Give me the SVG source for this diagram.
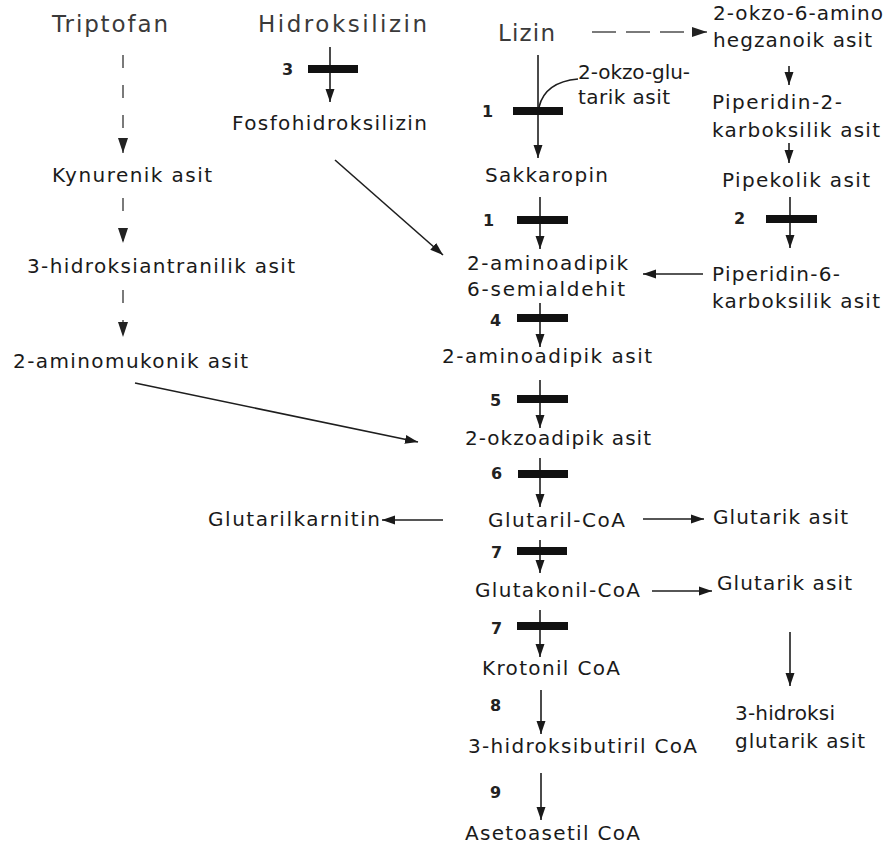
<svg xmlns="http://www.w3.org/2000/svg" width="887" height="847" viewBox="0 0 887 847">
<defs>
<marker id="ah" markerUnits="userSpaceOnUse" markerWidth="14" markerHeight="10" refX="13" refY="5" orient="auto">
<path d="M0,0.5 L13,5 L0,9.5 z" fill="#1a1a1a"/>
</marker>
<marker id="ahd" markerUnits="userSpaceOnUse" markerWidth="16" markerHeight="10" refX="15" refY="5" orient="auto">
<path d="M0,0 L15,5 L0,10 z" fill="#222"/>
</marker>
<style>
text{font-family:"DejaVu Sans","Liberation Sans",sans-serif;fill:#1a1a1a}
.t{font-size:20px}
.h{font-size:23px;fill:#3a3a3a}
.n{font-size:16px;font-weight:bold;fill:#222}
.c line,.c path{stroke:#1e1e1e;stroke-width:1.6;fill:none}
.c .d{stroke:#7a7a7a;stroke-width:2;stroke-dasharray:13,17}
.c .dh{stroke:#7a7a7a;stroke-width:2;stroke-dasharray:24,10}
.bar{fill:#111}
</style>
</defs>
<rect width="887" height="847" fill="#fff"/>

<g id="connectors" class="c">
<line class="d" x1="123" y1="55" x2="123" y2="153" marker-end="url(#ahd)"/>
<line class="d" x1="123" y1="198" x2="123" y2="243" marker-end="url(#ahd)"/>
<line class="d" x1="123" y1="290" x2="123" y2="337" marker-end="url(#ahd)"/>
<line class="dh" x1="592" y1="32" x2="707" y2="32" marker-end="url(#ahd)"/>
<line x1="330" y1="47" x2="330" y2="102" marker-end="url(#ah)"/>
<line x1="538" y1="55" x2="538" y2="158" marker-end="url(#ah)"/>
<path d="M578,79 Q545,82 539,107"/>
<line x1="540" y1="197" x2="540" y2="249" marker-end="url(#ah)"/>
<line x1="540" y1="303" x2="540" y2="347" marker-end="url(#ah)"/>
<line x1="540" y1="380" x2="540" y2="428" marker-end="url(#ah)"/>
<line x1="540" y1="458" x2="540" y2="507" marker-end="url(#ah)"/>
<line x1="540" y1="540" x2="540" y2="573" marker-end="url(#ah)"/>
<line x1="540" y1="610" x2="540" y2="657" marker-end="url(#ah)"/>
<line x1="541" y1="690" x2="541" y2="734" marker-end="url(#ah)"/>
<line x1="541" y1="773" x2="541" y2="820" marker-end="url(#ah)"/>
<line x1="789" y1="66" x2="789" y2="85" marker-end="url(#ah)"/>
<line x1="789" y1="143" x2="789" y2="163" marker-end="url(#ah)"/>
<line x1="790" y1="197" x2="790" y2="248" marker-end="url(#ah)"/>
<line x1="703" y1="274" x2="643" y2="274" marker-end="url(#ah)"/>
<line x1="335" y1="160" x2="443" y2="255" marker-end="url(#ah)"/>
<line x1="135" y1="383" x2="418" y2="442" marker-end="url(#ah)"/>
<line x1="443" y1="520" x2="382" y2="520" marker-end="url(#ah)"/>
<line x1="643" y1="519" x2="704" y2="519" marker-end="url(#ah)"/>
<line x1="652" y1="591" x2="712" y2="591" marker-end="url(#ah)"/>
<line x1="790" y1="632" x2="790" y2="686" marker-end="url(#ah)"/>
</g>

<g id="enzymes">
<rect class="bar" x="308" y="65" width="50" height="8"/><text class="n" x="282" y="75">3</text>
<rect class="bar" x="513" y="107" width="50" height="8"/><text class="n" x="482" y="117">1</text>
<rect class="bar" x="517" y="216" width="51" height="8"/><text class="n" x="483" y="226">1</text>
<rect class="bar" x="766" y="215" width="51" height="8"/><text class="n" x="734" y="224">2</text>
<rect class="bar" x="517" y="314" width="51" height="8"/><text class="n" x="490" y="326">4</text>
<rect class="bar" x="517" y="395" width="51" height="8"/><text class="n" x="490" y="406">5</text>
<rect class="bar" x="518" y="470" width="50" height="8"/><text class="n" x="491" y="479">6</text>
<rect class="bar" x="517" y="547" width="50" height="8"/><text class="n" x="491" y="558">7</text>
<rect class="bar" x="517" y="622" width="51" height="8"/><text class="n" x="491" y="634">7</text>
<text class="n" x="490" y="711">8</text>
<text class="n" x="490" y="798">9</text>
</g>

<g id="triptofan"><text class="h" x="52" y="32" textLength="116" lengthAdjust="spacing">Triptofan</text></g>
<g id="hidroksilizin"><text class="h" x="258" y="32" textLength="169" lengthAdjust="spacing">Hidroksilizin</text></g>
<g id="lizin"><text class="h" x="498" y="41" textLength="57" lengthAdjust="spacing">Lizin</text></g>
<g id="okzo-amino"><text class="t" x="713" y="20" textLength="170" lengthAdjust="spacing">2-okzo-6-amino</text><text class="t" x="713" y="47" textLength="159" lengthAdjust="spacing">hegzanoik asit</text></g>
<g id="okzoglutarik"><text class="t" x="578" y="79" textLength="112" lengthAdjust="spacing">2-okzo-glu-</text><text class="t" x="578" y="104" textLength="92" lengthAdjust="spacing">tarik asit</text></g>
<g id="fosfohidroksilizin"><text class="t" x="232" y="130" textLength="195" lengthAdjust="spacing">Fosfohidroksilizin</text></g>
<g id="piperidin2"><text class="t" x="712" y="109" textLength="130" lengthAdjust="spacing">Piperidin-2-</text><text class="t" x="712" y="137" textLength="168" lengthAdjust="spacing">karboksilik asit</text></g>
<g id="kynurenik"><text class="t" x="52" y="182" textLength="160" lengthAdjust="spacing">Kynurenik asit</text></g>
<g id="sakkaropin"><text class="t" x="485" y="182" textLength="123" lengthAdjust="spacing">Sakkaropin</text></g>
<g id="pipekolik"><text class="t" x="722" y="187" textLength="148" lengthAdjust="spacing">Pipekolik asit</text></g>
<g id="aminoadipik-semialdehit"><text class="t" x="467" y="270" textLength="161" lengthAdjust="spacing">2-aminoadipik</text><text class="t" x="467" y="296" textLength="158" lengthAdjust="spacing">6-semialdehit</text></g>
<g id="piperidin6"><text class="t" x="712" y="281" textLength="128" lengthAdjust="spacing">Piperidin-6-</text><text class="t" x="712" y="308" textLength="168" lengthAdjust="spacing">karboksilik asit</text></g>
<g id="hidroksiantranilik"><text class="t" x="27" y="273" textLength="268" lengthAdjust="spacing">3-hidroksiantranilik asit</text></g>
<g id="aminoadipik"><text class="t" x="442" y="363" textLength="210" lengthAdjust="spacing">2-aminoadipik asit</text></g>
<g id="aminomukonik"><text class="t" x="13" y="368" textLength="235" lengthAdjust="spacing">2-aminomukonik asit</text></g>
<g id="okzoadipik"><text class="t" x="465" y="445" textLength="186" lengthAdjust="spacing">2-okzoadipik asit</text></g>
<g id="glutarilkarnitin"><text class="t" x="208" y="526" textLength="172" lengthAdjust="spacing">Glutarilkarnitin</text></g>
<g id="glutaril-coa"><text class="t" x="488" y="527" textLength="137" lengthAdjust="spacing">Glutaril-CoA</text></g>
<g id="glutarik1"><text class="t" x="713" y="524" textLength="135" lengthAdjust="spacing">Glutarik asit</text></g>
<g id="glutakonil-coa"><text class="t" x="475" y="597" textLength="165" lengthAdjust="spacing">Glutakonil-CoA</text></g>
<g id="glutarik2"><text class="t" x="717" y="590" textLength="135" lengthAdjust="spacing">Glutarik asit</text></g>
<g id="krotonil"><text class="t" x="482" y="675" textLength="138" lengthAdjust="spacing">Krotonil CoA</text></g>
<g id="hidroksiglutarik"><text class="t" x="735" y="720" textLength="100" lengthAdjust="spacing">3-hidroksi</text><text class="t" x="735" y="748" textLength="130" lengthAdjust="spacing">glutarik asit</text></g>
<g id="hidroksibutiril"><text class="t" x="468" y="753" textLength="229" lengthAdjust="spacing">3-hidroksibutiril CoA</text></g>
<g id="asetoasetil"><text class="t" x="465" y="840" textLength="175" lengthAdjust="spacing">Asetoasetil CoA</text></g>
</svg>
